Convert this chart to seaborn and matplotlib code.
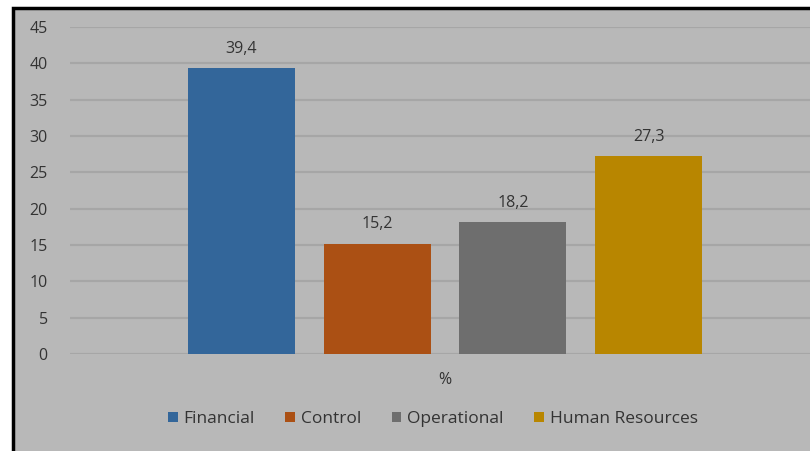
import matplotlib
matplotlib.use("Agg")
import matplotlib.pyplot as plt
import matplotlib.patches as mpatches
import seaborn as sns
import pandas as pd

categories = ["Financial", "Control", "Operational", "Human Resources"]
values = [39.4, 15.2, 18.2, 27.3]
group = ["%", "%", "%", "%"]
colors = ["#33669a", "#ab5014", "#6e6e6e", "#b88600"]
yticks = [0, 5, 10, 15, 20, 25, 30, 35, 40, 45]

df = pd.DataFrame({"group": group, "category": categories, "value": values})

sns.set_theme(style="white")
plt.rcParams["font.family"] = ["Open Sans", "DejaVu Sans"]

fig = plt.figure(figsize=(8.10, 4.51), dpi=100)
fig.patch.set_facecolor("white")
bg = mpatches.Rectangle((12.5 / 810, -0.01), 1.0, 0.01 + 443 / 451,
                        transform=fig.transFigure, facecolor="#b8b8b8",
                        edgecolor="black", linewidth=2.5, zorder=-10)
fig.patches.append(bg)

ax = fig.add_axes([70 / 810, 97 / 451, 750 / 810, 327 / 451])
ax.set_facecolor("none")
ax.patch.set_alpha(0)
sns.barplot(data=df, x="group", y="value", hue="category", hue_order=categories,
            palette=colors, width=0.724, gap=0.21, ax=ax, legend=False,
            saturation=1, zorder=3, edgecolor="none", linewidth=0)
ax.set_xlim(-0.5, 0.5)
ax.set_ylim(0, 45)
ax.set_yticks(yticks)
ax.yaxis.grid(True, color="#a6a6a6", linewidth=1.6, zorder=0)
ax.set_axisbelow(True)
for s in ax.spines.values():
    s.set_visible(False)
ax.tick_params(axis="both", length=0, labelsize=11.5, colors="#333333")
ax.tick_params(axis="y", pad=16)
ax.tick_params(axis="x", pad=13)
ax.set_xlabel("")
ax.set_ylabel("")

for cont in ax.containers:
    labels = [f"{v:.1f}".replace(".", ",") for v in cont.datavalues]
    ax.bar_label(cont, labels=labels, padding=8, fontsize=11.5, color="#333333")

handles = [mpatches.Patch(facecolor=c, edgecolor="none") for c in colors]
fig.legend(handles, categories, loc="center", bbox_to_anchor=(433 / 810, 1 - 419 / 451),
           ncol=4, frameon=False, fontsize=12.5, handlelength=0.55, handleheight=0.55,
           handletextpad=0.35, columnspacing=1.75, labelcolor="#333333")

fig.savefig("out.png", dpi=100, facecolor="white")
